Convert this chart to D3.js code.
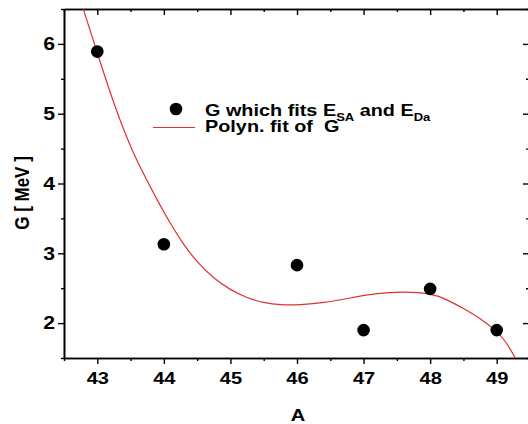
<!DOCTYPE html>
<html><head><meta charset="utf-8">
<script src="https://cdn.jsdelivr.net/npm/d3@7"></script>
<style>
body{margin:0;background:#fff;}
svg{display:block;}
text{font-family:"Liberation Sans",Arial,sans-serif;font-weight:bold;fill:#000;white-space:pre;}
</style></head>
<body>
<script>
// Data points
const massA = [43, 44, 46, 47, 48, 49];
const gValues = [5.89, 3.13, 2.83, 1.90, 2.49, 1.90];
// Polynomial fit curve
const fitA = [42.79, 43.0, 43.25, 43.52, 43.7, 43.9, 44.1, 44.3, 44.5, 44.75, 45.0, 45.25, 45.5, 45.75, 46.05, 46.4, 46.8, 47.2, 47.6, 48.0, 48.25, 48.5, 48.75, 49.0, 49.15, 49.28];
const fitG = [6.5, 5.87, 5.13, 4.47, 4.13, 3.76, 3.42, 3.12, 2.87, 2.64, 2.475, 2.36, 2.29, 2.257, 2.262, 2.29, 2.36, 2.43, 2.45, 2.43, 2.34, 2.21, 2.07, 1.89, 1.72, 1.5];
const xTicks = [43, 44, 45, 46, 47, 48, 49];
const yTicks = [2, 3, 4, 5, 6];
const xMinor = [42.5, 43.5, 44.5, 45.5, 46.5, 47.5, 48.5, 49.5];
const yMinor = [1.5, 2.5, 3.5, 4.5, 5.5, 6.5];

const W = 528, H = 424;
const pL = 64, pR = 530, pT = 9, pB = 358;
const SX = 1.18; // horizontal text stretch of the original
const svg = d3.select("body").append("svg").attr("width", W).attr("height", H);
const x = d3.scaleLinear().domain([42.5, 49.5]).range([pL, pR]);
const y = d3.scaleLinear().domain([1.5, 6.5]).range([pB, pT]);

svg.append("defs").append("clipPath").attr("id","clip")
  .append("rect").attr("x", pL).attr("y", pT).attr("width", pR-pL).attr("height", pB-pT);

function styleAxis(g){ g.select(".domain").attr("stroke","#000").attr("stroke-width",1.6); g.selectAll(".tick line").attr("stroke","#000").attr("stroke-width",1.4); }

const xb = svg.append("g").attr("transform",`translate(0,${pB})`)
  .call(d3.axisBottom(x).tickValues(xTicks).tickFormat(d3.format("d")).tickSize(6).tickSizeOuter(0).tickPadding(8));
styleAxis(xb);
xb.selectAll("text").style("font-size","17px").attr("transform",`scale(${SX},1)`);
svg.append("g").attr("transform",`translate(0,${pB})`)
  .call(d3.axisBottom(x).tickValues(xMinor).tickFormat("").tickSize(3).tickSizeOuter(0)).call(styleAxis);

svg.append("g").attr("transform",`translate(0,${pT})`)
  .call(d3.axisTop(x).tickValues(xTicks).tickFormat("").tickSize(-6).tickSizeOuter(0)).call(styleAxis);
svg.append("g").attr("transform",`translate(0,${pT})`)
  .call(d3.axisTop(x).tickValues(xMinor).tickFormat("").tickSize(-3).tickSizeOuter(0)).call(styleAxis);

const yl = svg.append("g").attr("transform",`translate(${pL},0)`)
  .call(d3.axisLeft(y).tickValues(yTicks).tickFormat(d3.format("d")).tickSize(6).tickSizeOuter(0).tickPadding(6));
styleAxis(yl);
yl.selectAll("text").style("font-size","18px").attr("x", -9/SX).attr("transform",`scale(${SX},1)`);
svg.append("g").attr("transform",`translate(${pL},0)`)
  .call(d3.axisLeft(y).tickValues(yMinor).tickFormat("").tickSize(3).tickSizeOuter(0)).call(styleAxis);

svg.append("g").attr("transform",`translate(${pR-1},0)`)
  .call(d3.axisRight(y).tickValues(yTicks).tickFormat("").tickSize(-6).tickSizeOuter(0)).call(styleAxis);
svg.append("g").attr("transform",`translate(${pR-1},0)`)
  .call(d3.axisRight(y).tickValues(yMinor).tickFormat("").tickSize(-3).tickSizeOuter(0)).call(styleAxis);

// Axis titles
svg.append("text").attr("transform",`translate(298,421) scale(${SX},1)`).attr("text-anchor","middle").style("font-size","17px").text("A");
svg.append("text").attr("transform",`translate(28.5,193) scale(${SX},1) rotate(-90)`).attr("text-anchor","middle").style("font-size","17px").text("G [ MeV ]");

// Fit curve
const line = d3.line().x((d,i)=>x(fitA[i])).y((d,i)=>y(fitG[i])).curve(d3.curveBasis);
svg.append("path").datum(fitA).attr("d", line).attr("fill","none").attr("stroke","#e03030").attr("stroke-width",1.2).attr("clip-path","url(#clip)");

// Points
svg.append("g").selectAll("circle").data(massA).join("circle")
  .attr("cx", d=>x(d)).attr("cy", (d,i)=>y(gValues[i])).attr("r", 6.3).attr("fill","#000");

// Legend
svg.append("circle").attr("cx",176).attr("cy",109).attr("r",6.3).attr("fill","#000");
const lg = svg.append("g").attr("transform",`translate(205,0) scale(1.24,1)`);
const t1 = lg.append("text").attr("x",0).attr("y",116.5).style("font-size","16px");
t1.append("tspan").text("G which fits E");
t1.append("tspan").attr("dy",4.5).style("font-size","10.5px").text("SA");
t1.append("tspan").attr("dy",-4.5).text(" and E");
t1.append("tspan").attr("dy",4.5).style("font-size","10.5px").text("Da");
svg.append("line").attr("x1",153).attr("x2",195).attr("y1",127.5).attr("y2",127.5).attr("stroke","#e03030").attr("stroke-width",1.2);
lg.append("text").attr("x",0).attr("y",132).style("font-size","16px").text("Polyn. fit of  G");
</script>
</body></html>
